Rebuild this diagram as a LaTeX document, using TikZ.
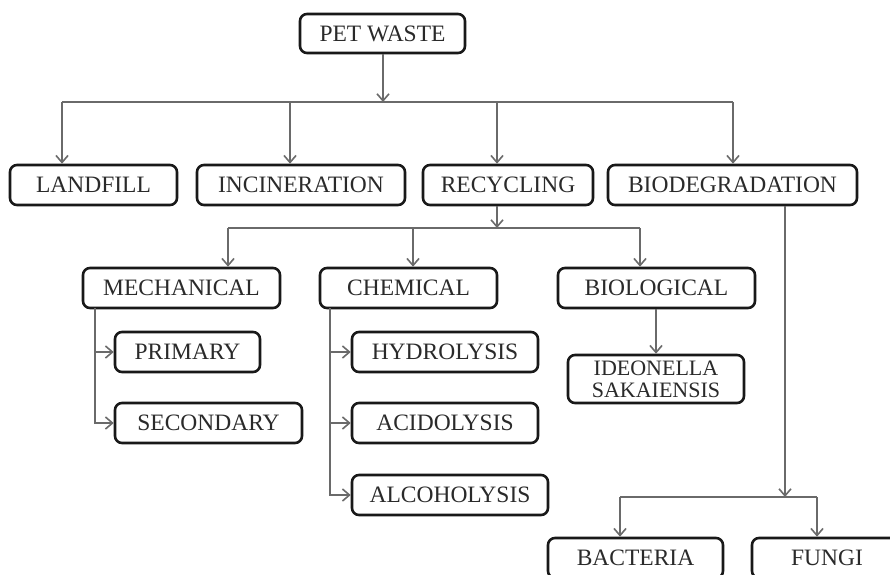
\documentclass[tikz,border=0pt]{standalone}
\usepackage{fontspec}
\setmainfont{Liberation Serif}
\usetikzlibrary{arrows.meta}
\definecolor{conncol}{HTML}{6A6A6A}
\definecolor{txtcol}{HTML}{2A2A2A}
\begin{document}
\begin{tikzpicture}[x=1pt,y=-1pt,
  box/.style={draw=black!90,line width=2.6pt,rounded corners=7pt,inner sep=0pt,
    minimum height=40pt,text=txtcol,font=\fontsize{23.5}{25}\selectfont,fill=white},
  conn/.style={draw=conncol,line width=1.8pt},
  arr/.style={conn,-{Straight Barb[length=7pt,width=12pt,line width=1.6pt]}}]
\useasboundingbox (0,0) rectangle (890,574);
\clip (0,0) rectangle (890,574);
\fill[white] (0,0) rectangle (890,574);
% nodes
\node[box,minimum width=165pt,minimum height=39pt] (pet) at (382.5,33.5) {PET WASTE};
\node[box,minimum width=167pt] (landfill) at (93.5,185) {LANDFILL};
\node[box,minimum width=208pt] (incin) at (301,185) {INCINERATION};
\node[box,minimum width=170pt] (recyc) at (508,185) {RECYCLING};
\node[box,minimum width=249pt] (biodeg) at (732.5,185) {BIODEGRADATION};
\node[box,minimum width=197pt] (mech) at (181.5,288) {MECHANICAL};
\node[box,minimum width=177pt] (chem) at (408.5,288) {CHEMICAL};
\node[box,minimum width=197pt] (biol) at (656.5,288) {BIOLOGICAL};
\node[box,minimum width=145pt] (primary) at (187.5,352) {PRIMARY};
\node[box,minimum width=187pt] (secondary) at (208.5,423) {SECONDARY};
\node[box,minimum width=186pt] (hydro) at (445,352) {HYDROLYSIS};
\node[box,minimum width=186pt] (acido) at (445,423) {ACIDOLYSIS};
\node[box,minimum width=196pt] (alco) at (450,495) {ALCOHOLYSIS};
\node[box,minimum width=176pt,minimum height=48pt,align=center,
  font=\fontsize{22}{22}\selectfont] (ideo) at (656,379) {IDEONELLA\\SAKAIENSIS};
\node[box,minimum width=175pt] (bacteria) at (635.5,558) {BACTERIA};
\node[box,minimum width=150pt] (fungi) at (827,558) {FUNGI};
% bus coordinates
\coordinate (b0) at (383,102);
\coordinate (bL) at (62,102);
\coordinate (bI) at (290,102);
\coordinate (bR) at (497,102);
\coordinate (bB) at (733,102);
\coordinate (r0) at (497,228);
\coordinate (rM) at (228,228);
\coordinate (rC) at (413,228);
\coordinate (rB) at (640,228);
\coordinate (mT) at (95,308);
\coordinate (cT) at (330,308);
\coordinate (d0) at (785,497);
\coordinate (dB) at (620,497);
\coordinate (dF) at (817,497);
% connectors
\draw[arr] (pet.south -| b0) -- (b0);
\draw[conn] (bL) -- (bB);
\draw[arr] (bL) -- (bL |- landfill.north);
\draw[arr] (bI) -- (bI |- incin.north);
\draw[arr] (bR) -- (bR |- recyc.north);
\draw[arr] (bB) -- (bB |- biodeg.north);
\draw[arr] (recyc.south -| r0) -- (r0);
\draw[conn] (rM) -- (rB);
\draw[arr] (rM) -- (rM |- mech.north);
\draw[arr] (rC) -- (rC |- chem.north);
\draw[arr] (rB) -- (rB |- biol.north);
\draw[arr] (mT) |- (primary.west);
\draw[arr] (mT) |- (secondary.west);
\draw[arr] (cT) |- (hydro.west);
\draw[arr] (cT) |- (acido.west);
\draw[arr] (cT) |- (alco.west);
\draw[arr] (biol.south -| ideo.north) -- (ideo.north);
\draw[arr] (biodeg.south -| d0) -- (d0);
\draw[conn] (dB) -- (dF);
\draw[arr] (dB) -- (dB |- bacteria.north);
\draw[arr] (dF) -- (dF |- fungi.north);
\end{tikzpicture}
\end{document}
